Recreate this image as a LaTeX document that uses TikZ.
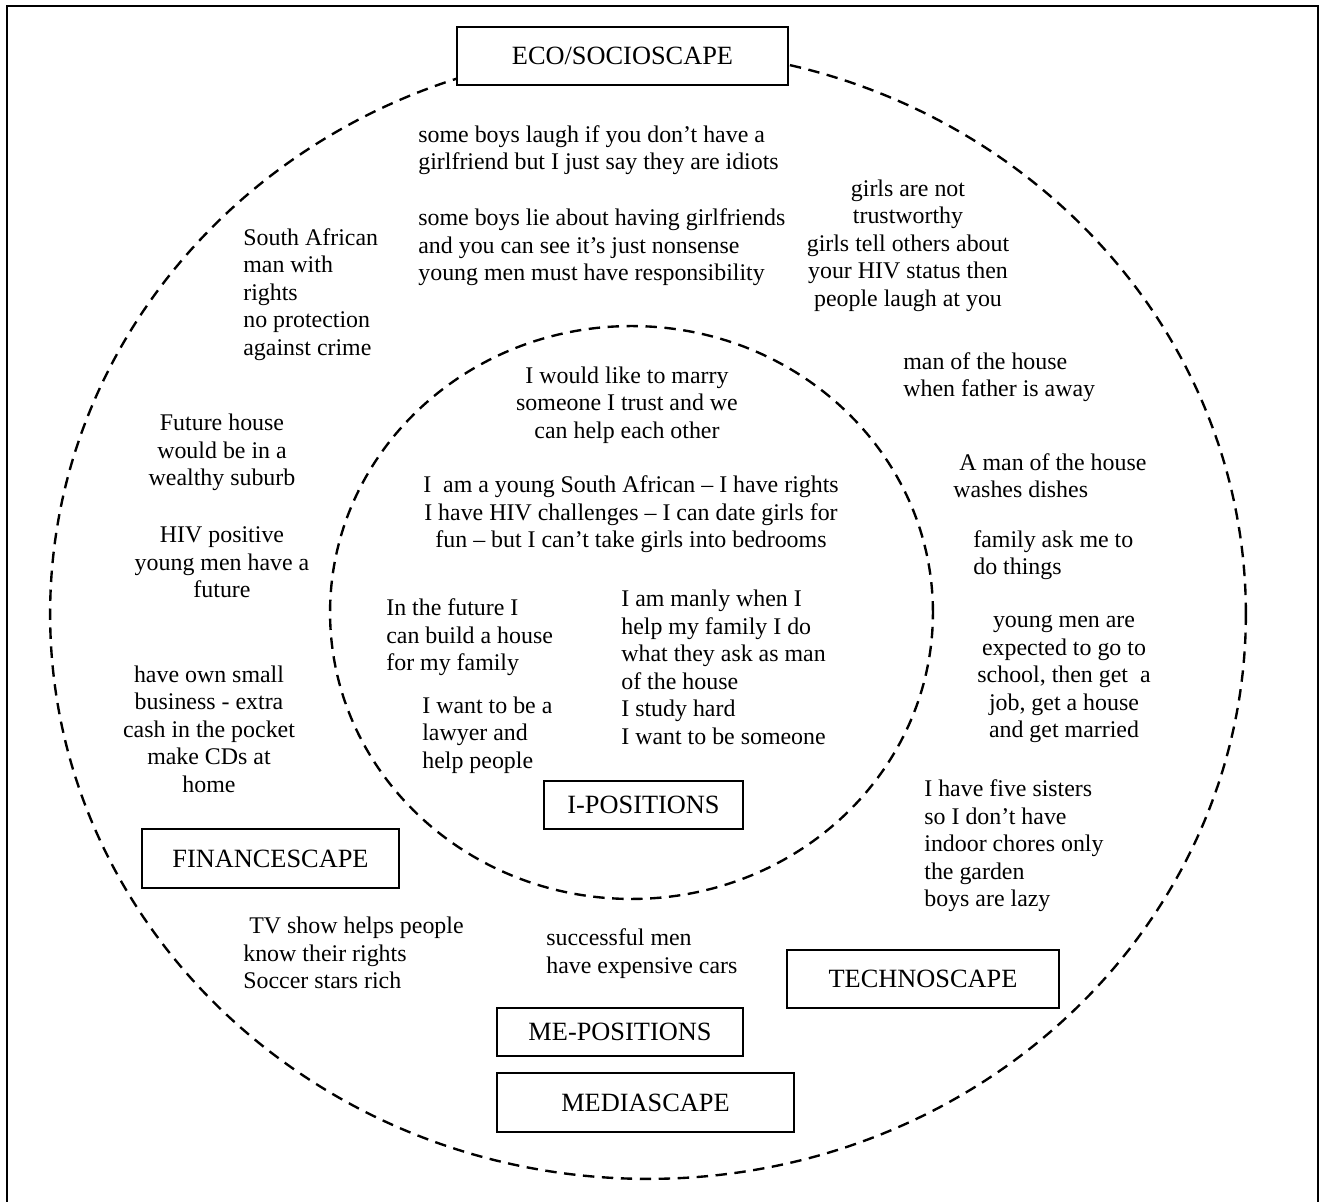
\documentclass[tikz,border=0pt]{standalone}
\usepackage{fontspec}
\setmainfont{Liberation Serif}
\newcommand\txtsize{\fontsize{13.6}{15.65}\selectfont}
\newcommand\boxsize{\fontsize{15}{18}\selectfont}

\begin{document}
\begin{tikzpicture}[x=0.02cm,y=-0.02cm,
  scape/.style={draw,fill=white,line width=1.25pt,font=\boxsize,inner sep=0pt},
  say/.style={font=\txtsize,inner sep=0pt,align=left,anchor=west},
  sayc/.style={font=\txtsize,inner sep=0pt,align=center},
  ring/.style={line width=1.35pt,dash pattern=on 6.5pt off 4.3pt}]

  \useasboundingbox (0,0) rectangle (1319,1202);
  \draw[line width=1.1pt] (7,1202) -- (7,6) -- (1318,6) -- (1318,1202);

  \draw[ring] (648,614) ellipse [x radius=11.96cm, y radius=11.3cm];
  \draw[ring] (631.5,612.5) ellipse [x radius=6.03cm, y radius=5.73cm];

  \node[scape,minimum width=6.62cm,minimum height=1.16cm] (eco) at (622.5,56) {ECO/SOCIOSCAPE};
  \node[scape,minimum width=3.98cm,minimum height=0.96cm] (ipos) at (643.5,805) {I-POSITIONS};
  \node[scape,minimum width=5.14cm,minimum height=1.18cm] (finance) at (270.5,858.5) {FINANCESCAPE};
  \node[scape,minimum width=4.92cm,minimum height=0.96cm] (mepos) at (620,1032) {ME-POSITIONS};
  \node[scape,minimum width=5.94cm,minimum height=1.18cm] (media) at (645.5,1102.5) {MEDIASCAPE};
  \node[scape,minimum width=5.44cm,minimum height=1.16cm] (techno) at (923,979) {TECHNOSCAPE};

  \node[say] (laugh) at (418,150) {some boys laugh if you don't have a\\girlfriend but I just say they are idiots};
  \node[say] (lie) at (418,247.5) {some boys lie about having girlfriends\\and you can see it's just nonsense\\young men must have responsibility};
  \node[sayc] (trust) at (908,245.5) {girls are not\\trustworthy\\girls tell others about\\your HIV status then\\people laugh at you};
  \node[say] (rights) at (243,294.5) {South African\\man with\\rights\\no protection\\against crime};
  \node[say] (away) at (903,377) {man of the house\\when father is away};
  \node[sayc] (marry) at (627,405) {I would like to marry\\someone I trust and we\\can help each other};
  \node[sayc] (young) at (631,514.5) {I~ am a young South African -- I have rights\\I have HIV challenges -- I can date girls for\\fun -- but I can't take girls into bedrooms};
  \node[say] (build) at (386,637.5) {In the future I\\can build a house\\for my family};
  \node[say] (lawyer) at (422,735) {I want to be a\\lawyer and\\help people};
  \node[say] (manly) at (621,667.5) {I am manly when I\\help my family I do\\what they ask as man\\of the house\\I study hard\\I want to be someone};
  \node[say] (dishes) at (953,475.5) {\ A man of the house\\washes dishes};
  \node[say] (ask) at (973,555) {family ask me to\\do things};
  \node[sayc] (school) at (1064,679) {young men are\\expected to go to\\school, then get~ a\\job, get a house\\and get married};
  \node[say] (sisters) at (924,846) {I have five sisters\\so I don't have\\indoor chores only\\the garden\\boys are lazy};
  \node[sayc] (suburb) at (222,452.5) {Future house\\would be in a\\wealthy suburb};
  \node[sayc] (hiv) at (222,562.5) {HIV positive\\young men have a\\future};
  \node[sayc] (cash) at (209,729) {have own small\\business - extra\\cash in the pocket\\make CDs at\\home};
  \node[say] (tv) at (243,953) {\ TV show helps people\\know their rights\\Soccer stars rich};
  \node[say] (cars) at (546,953.5) {successful men\\have expensive cars};

\end{tikzpicture}
\end{document}
